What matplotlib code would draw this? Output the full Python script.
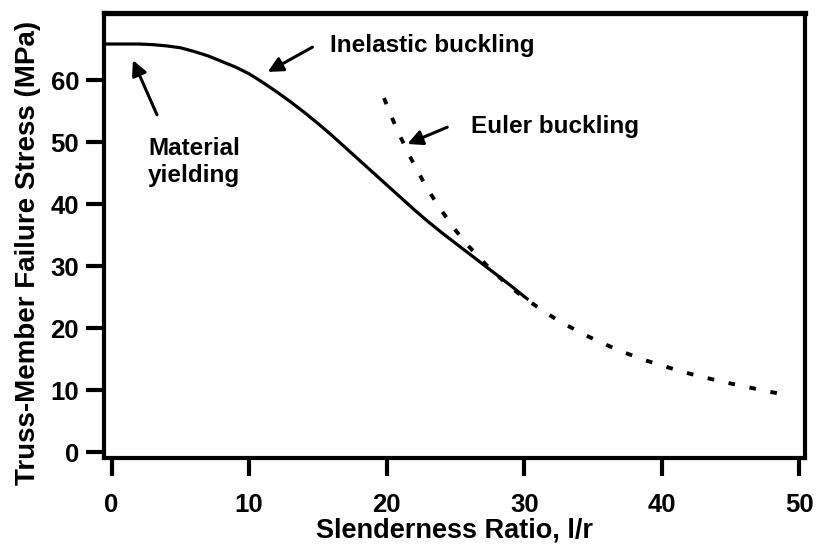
import matplotlib
matplotlib.use("Agg")
import matplotlib.pyplot as plt

# Inelastic (solid) failure curve
inelastic_x = [-0.55, 0, 1, 2, 3, 4, 5, 6, 7, 8, 9, 10, 11, 12, 13, 14, 15,
               16, 17, 18, 19, 20, 21, 22, 23, 24, 25, 26, 27, 28, 29, 30, 30.3]
inelastic_y = [65.8, 65.8, 65.8, 65.8, 65.7, 65.5, 65.2, 64.6, 63.9, 63.0, 62.1,
               61.0, 59.6, 58.1, 56.5, 54.8, 53.0, 51.1, 49.1, 47.1, 45.1, 43.1,
               41.1, 39.1, 37.2, 35.4, 33.7, 32.0, 30.3, 28.6, 26.9, 25.1, 24.6]

# Euler buckling (dotted) curve
euler_x = [19.8, 20.5, 21, 22, 23, 24, 25, 26, 27.5, 29, 30, 31.5, 32.5, 34, 35,
           36.5, 37.5, 39, 40, 41.5, 42.5, 44, 45, 46.5, 47.5, 49.0]
euler_y = [57.1, 53.3, 50.8, 46.3, 42.3, 38.9, 35.8, 33.1, 29.6, 26.6, 24.9, 22.6,
           21.2, 19.4, 18.3, 16.8, 15.9, 14.7, 14.0, 13.0, 12.4, 11.6, 11.1, 10.4,
           9.9, 9.3]

x_ticks = [0, 10, 20, 30, 40, 50]
y_ticks = [0, 10, 20, 30, 40, 50, 60]

plt.rcParams["font.family"] = ["Liberation Sans", "DejaVu Sans"]
plt.rcParams["font.weight"] = "bold"

fig = plt.figure(figsize=(8.17, 5.53), dpi=100)
ax = fig.add_axes([0.1273, 0.1718, 0.9853 - 0.1273, 0.9765 - 0.1718])

ax.plot(inelastic_x, inelastic_y, color="black", lw=2.3, solid_capstyle="butt")
ax.plot(euler_x, euler_y, color="black", lw=2.8, linestyle=(0, (1.7, 3.8)))

ax.set_xlim(-0.55, 50.4)
ax.set_ylim(-0.9, 70.8)
ax.set_xticks(x_ticks)
ax.set_yticks(y_ticks)

for side in ["left", "bottom", "right"]:
    ax.spines[side].set_linewidth(3.0)
ax.spines["top"].set_linewidth(3.8)

ax.tick_params(axis="both", direction="out", length=13, width=3, labelsize=18.5)
ax.tick_params(axis="x", pad=12)
ax.tick_params(axis="y", pad=5)

ax.set_xlabel("Slenderness Ratio, l/r", fontsize=19.5, fontweight="bold")
ax.set_ylabel("Truss-Member Failure Stress (MPa)", fontsize=20, fontweight="bold")
ax.xaxis.set_label_coords(0.5, -0.133)
ax.yaxis.set_label_coords(-0.09, 0.46)

arrow = dict(arrowstyle="-|>,head_length=0.6,head_width=0.3", color="black",
             lw=2.2, mutation_scale=15, shrinkA=0, shrinkB=0)

ax.annotate("", xy=(11.35, 61.3), xytext=(14.6, 65.3), arrowprops=arrow)
ax.text(15.85, 64.5, "Inelastic buckling", fontsize=17.5, fontweight="bold",
        ha="left", va="baseline")

ax.annotate("", xy=(21.5, 49.7), xytext=(24.4, 52.4), arrowprops=arrow)
ax.text(26.15, 51.5, "Euler buckling", fontsize=17.5, fontweight="bold",
        ha="left", va="baseline")

ax.annotate("", xy=(1.55, 63.2), xytext=(3.3, 54.4), arrowprops=arrow)
ax.text(2.64, 43.6, "Material\nyielding", fontsize=17.5, fontweight="bold",
        ha="left", va="baseline", linespacing=1.2)

fig.savefig("out.png", dpi=100)
